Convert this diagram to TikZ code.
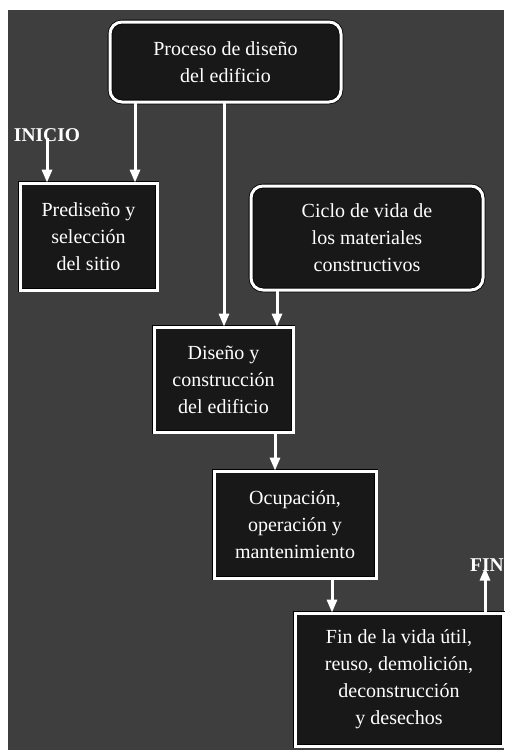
\documentclass[tikz,border=0pt]{standalone}
\usepackage{fontspec}
\setmainfont{Liberation Serif}
\usetikzlibrary{arrows.meta}
\definecolor{bg}{RGB}{62,62,62}
\definecolor{boxfill}{RGB}{24,24,24}
\tikzset{
  box/.style={rectangle, draw=black, double=white, double distance=3pt, line width=0.8pt,
    fill=boxfill, text=white, align=center, inner sep=0pt,
    font=\fontsize{20}{27}\selectfont},
  rbox/.style={box, rounded corners=12pt},
  lbl/.style={text=white, inner sep=0pt, font=\fontsize{19.5}{27}\selectfont\bfseries},
  arr/.style={draw=white, line width=3pt, -{Triangle[width=10pt,length=13pt]}},
}
\begin{document}
\begin{tikzpicture}[x=1pt,y=-1pt]
\useasboundingbox (0,0) rectangle (504,750);
\fill[white] (0,0) rectangle (504,750);
\fill[bg] (8,10) rectangle (504,750);

\node[rbox, minimum width=231pt, minimum height=80pt] (proc) at (225.5,62) {Proceso de diseño\\del edificio};
\node[box, minimum width=137pt, minimum height=107pt] (pre) at (88.5,236.5) {Prediseño y\\selección\\del sitio};
\node[rbox, minimum width=232pt, minimum height=104pt] (cic) at (367,238) {Ciclo de vida de\\los materiales\\constructivos};
\node[box, minimum width=139pt, minimum height=105pt] (dis) at (223.5,379.5) {Diseño y\\construcción\\del edificio};
\node[box, minimum width=162pt, minimum height=107pt] (ocu) at (295,524.5) {Ocupación,\\operación y\\mantenimiento};
\node[box, minimum width=208pt, minimum height=133pt] (fin) at (399,679.5) {Fin de la vida útil,\\reuso, demolición,\\deconstrucción\\y desechos};

\node[lbl] (ini) at (47,135) {INICIO};
\node[lbl] (fint) at (487,565) {FIN};

\coordinate (xa) at (135,0);
\coordinate (xb) at (224,0);
\coordinate (xc) at (277,0);
\coordinate (xd) at (275,0);
\coordinate (xe) at (332,0);
\coordinate (xf) at (485,0);

\draw[arr] ([yshift=4pt]ini.south) -- (pre.north -| ini.south);
\draw[arr] (proc.south -| xa) -- (pre.north -| xa);
\draw[arr] (proc.south -| xb) -- (dis.north -| xb);
\draw[arr] (cic.south -| xc) -- (dis.north -| xc);
\draw[arr] (dis.south -| xd) -- (ocu.north -| xd);
\draw[arr] (ocu.south -| xe) -- (fin.north -| xe);
\draw[arr] (fin.north -| xf) -- ([yshift=4pt]fint.south -| xf);
\end{tikzpicture}
\end{document}
